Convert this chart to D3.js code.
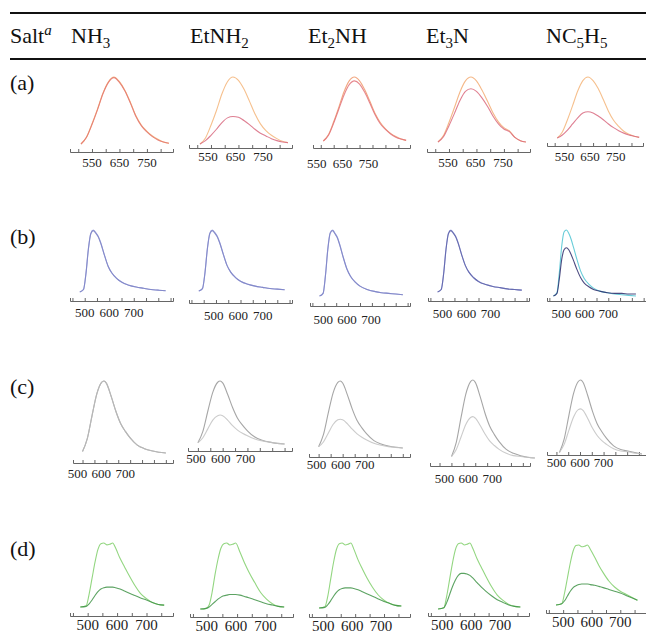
<!DOCTYPE html>
<html><head><meta charset="utf-8">
<script src="https://cdn.jsdelivr.net/npm/d3@7"></script>
<style>body{margin:0;background:#fff}svg{display:block}</style>
</head><body><svg id="c" width="646" height="635"></svg>
<script>
// ---------- DATA ----------
const columnLabels = [
  [["NH",""],["3","sub"]],
  [["EtNH",""],["2","sub"]],
  [["Et",""],["2","sub"],["NH",""]],
  [["Et",""],["3","sub"],["N",""]],
  [["NC",""],["5","sub"],["H",""],["5","sub"]]
];
const rowLabels = ["(a)", "(b)", "(c)", "(d)"];

const aTicks = [550, 650, 750];
const bTicks = [500, 600, 700];
const cTicks = [500, 600, 700];
const dTicks = [500, 600, 700];

// Row (a) spectra (wavelength nm, normalised intensity)
const aWave = [510, 530, 550, 570, 590, 610, 630, 650, 670, 690, 710, 730, 750, 770, 790, 810, 830];
const aOuter = [
  [0.00, 0.10, 0.30, 0.52, 0.76, 0.93, 1.00, 0.93, 0.80, 0.62, 0.42, 0.28, 0.19, 0.12, 0.07, 0.03, 0.01],
  [0.00, 0.09, 0.28, 0.50, 0.75, 0.93, 1.00, 0.95, 0.82, 0.64, 0.45, 0.30, 0.20, 0.13, 0.08, 0.04, 0.02],
  [0.00, 0.10, 0.30, 0.53, 0.77, 0.94, 1.00, 0.94, 0.80, 0.62, 0.43, 0.29, 0.19, 0.12, 0.07, 0.03, 0.01],
  [0.00, 0.10, 0.30, 0.53, 0.77, 0.94, 1.00, 0.94, 0.80, 0.63, 0.45, 0.31, 0.22, 0.17, 0.07, 0.02, 0.00],
  [0.00, 0.10, 0.30, 0.53, 0.77, 0.94, 1.00, 0.94, 0.81, 0.63, 0.44, 0.29, 0.19, 0.11, 0.06, 0.03, 0.01]
];
const aInner = [
  [0.00, 0.10, 0.29, 0.51, 0.75, 0.92, 0.99, 0.92, 0.79, 0.61, 0.41, 0.27, 0.18, 0.11, 0.06, 0.03, 0.01],
  [0.00, 0.05, 0.13, 0.22, 0.32, 0.39, 0.41, 0.40, 0.35, 0.29, 0.22, 0.16, 0.12, 0.08, 0.05, 0.03, 0.02],
  [0.00, 0.09, 0.28, 0.50, 0.72, 0.88, 0.94, 0.89, 0.76, 0.59, 0.41, 0.27, 0.18, 0.11, 0.06, 0.03, 0.01],
  [0.00, 0.08, 0.25, 0.44, 0.64, 0.78, 0.82, 0.78, 0.68, 0.55, 0.40, 0.28, 0.20, 0.16, 0.07, 0.02, 0.00],
  [0.00, 0.05, 0.13, 0.23, 0.33, 0.41, 0.43, 0.41, 0.36, 0.30, 0.23, 0.17, 0.12, 0.08, 0.05, 0.03, 0.01]
];

// Row (b)
const bWave = [480, 495, 505, 515, 525, 535, 545, 555, 565, 580, 595, 610, 630, 650, 680, 710, 740, 770, 800, 830];
const bOuter = [
  [0.00, 0.04, 0.30, 0.70, 0.95, 1.00, 0.96, 0.90, 0.80, 0.60, 0.42, 0.31, 0.22, 0.16, 0.11, 0.08, 0.06, 0.04, 0.03, 0.02],
  [0.00, 0.04, 0.30, 0.70, 0.95, 1.00, 0.96, 0.90, 0.80, 0.60, 0.42, 0.31, 0.22, 0.16, 0.11, 0.08, 0.06, 0.04, 0.03, 0.02],
  [0.00, 0.04, 0.32, 0.72, 0.96, 1.00, 0.95, 0.89, 0.78, 0.58, 0.41, 0.30, 0.21, 0.15, 0.10, 0.07, 0.05, 0.04, 0.03, 0.02],
  [0.00, 0.04, 0.30, 0.70, 0.95, 1.00, 0.96, 0.90, 0.80, 0.60, 0.43, 0.32, 0.23, 0.17, 0.12, 0.09, 0.07, 0.05, 0.04, 0.03],
  [0.00, 0.05, 0.35, 0.75, 0.97, 1.00, 0.95, 0.86, 0.74, 0.55, 0.38, 0.27, 0.18, 0.12, 0.07, 0.05, 0.03, 0.02, 0.01, 0.00]
];
const bInner = [
  [0.00, 0.04, 0.29, 0.69, 0.94, 0.99, 0.95, 0.89, 0.79, 0.60, 0.42, 0.31, 0.22, 0.16, 0.11, 0.08, 0.06, 0.04, 0.03, 0.02],
  [0.00, 0.04, 0.29, 0.69, 0.94, 0.99, 0.95, 0.89, 0.79, 0.60, 0.42, 0.31, 0.22, 0.16, 0.11, 0.08, 0.06, 0.04, 0.03, 0.02],
  [0.00, 0.04, 0.31, 0.71, 0.95, 0.99, 0.94, 0.88, 0.77, 0.58, 0.41, 0.30, 0.21, 0.15, 0.10, 0.07, 0.05, 0.04, 0.03, 0.02],
  [0.00, 0.04, 0.29, 0.69, 0.94, 0.99, 0.95, 0.89, 0.79, 0.60, 0.43, 0.32, 0.23, 0.17, 0.12, 0.09, 0.07, 0.05, 0.04, 0.03],
  [0.00, 0.04, 0.26, 0.55, 0.70, 0.73, 0.70, 0.63, 0.54, 0.40, 0.28, 0.20, 0.14, 0.10, 0.07, 0.05, 0.04, 0.04, 0.03, 0.03]
];

// Row (c)
const cWave = [500, 520, 540, 560, 580, 590, 600, 620, 640, 660, 680, 700, 730, 760, 790, 820, 850];
const cOuter = [
  [0.02, 0.20, 0.52, 0.82, 0.98, 1.00, 0.97, 0.79, 0.58, 0.41, 0.30, 0.21, 0.11, 0.06, 0.03, 0.01, 0.00],
  [0.02, 0.20, 0.52, 0.82, 0.98, 1.00, 0.97, 0.79, 0.58, 0.41, 0.30, 0.21, 0.11, 0.06, 0.03, 0.01, 0.00],
  [0.02, 0.20, 0.52, 0.82, 0.98, 1.00, 0.97, 0.79, 0.58, 0.41, 0.30, 0.21, 0.11, 0.06, 0.03, 0.01, 0.00],
  [0.02, 0.20, 0.52, 0.82, 0.98, 1.00, 0.97, 0.79, 0.58, 0.41, 0.30, 0.21, 0.11, 0.06, 0.03, 0.01, 0.00],
  [0.02, 0.20, 0.52, 0.82, 0.98, 1.00, 0.97, 0.79, 0.58, 0.41, 0.30, 0.21, 0.11, 0.06, 0.04, 0.02, 0.00]
];
const cInner = [
  [0.02, 0.20, 0.52, 0.82, 0.98, 1.00, 0.97, 0.79, 0.58, 0.41, 0.30, 0.21, 0.11, 0.06, 0.03, 0.01, 0.00],
  [0.02, 0.10, 0.24, 0.38, 0.45, 0.46, 0.45, 0.38, 0.29, 0.22, 0.17, 0.13, 0.08, 0.05, 0.03, 0.01, 0.00],
  [0.02, 0.09, 0.22, 0.35, 0.42, 0.43, 0.42, 0.36, 0.28, 0.21, 0.16, 0.12, 0.07, 0.04, 0.02, 0.01, 0.00],
  [0.02, 0.11, 0.27, 0.43, 0.52, 0.53, 0.51, 0.42, 0.31, 0.22, 0.16, 0.11, 0.06, 0.03, 0.02, 0.01, 0.00],
  [0.02, 0.13, 0.32, 0.50, 0.60, 0.61, 0.59, 0.48, 0.35, 0.25, 0.18, 0.13, 0.07, 0.04, 0.03, 0.01, 0.00]
];

// Row (d)
const dWave = [475, 495, 505, 515, 525, 535, 545, 555, 565, 575, 585, 595, 610, 625, 640, 660, 680, 700, 720, 740, 760];
const dOuter = [
  [0.00, 0.02, 0.20, 0.45, 0.70, 0.90, 0.99, 1.00, 0.97, 0.98, 1.00, 0.92, 0.76, 0.63, 0.50, 0.34, 0.21, 0.13, 0.07, 0.04, 0.03],
  [0.00, 0.01, 0.06, 0.25, 0.52, 0.75, 0.92, 0.99, 1.00, 0.97, 0.98, 1.00, 0.86, 0.70, 0.56, 0.40, 0.25, 0.15, 0.08, 0.04, 0.03],
  [0.00, 0.02, 0.18, 0.44, 0.70, 0.90, 0.99, 1.00, 0.97, 0.98, 1.00, 0.91, 0.74, 0.60, 0.47, 0.32, 0.20, 0.12, 0.07, 0.04, 0.03],
  [0.00, 0.02, 0.20, 0.45, 0.70, 0.90, 0.99, 1.00, 0.97, 0.98, 1.00, 0.92, 0.76, 0.63, 0.50, 0.34, 0.21, 0.13, 0.07, 0.04, 0.03],
  [0.00, 0.02, 0.20, 0.45, 0.70, 0.90, 0.99, 1.00, 0.97, 0.98, 1.00, 0.93, 0.80, 0.66, 0.54, 0.40, 0.30, 0.23, 0.18, 0.13, 0.08]
];
const dInner = [
  [0.00, 0.01, 0.05, 0.11, 0.18, 0.24, 0.28, 0.30, 0.31, 0.31, 0.31, 0.30, 0.28, 0.25, 0.22, 0.18, 0.14, 0.11, 0.07, 0.04, 0.03],
  [0.00, 0.01, 0.03, 0.07, 0.11, 0.15, 0.18, 0.20, 0.21, 0.22, 0.22, 0.22, 0.21, 0.19, 0.17, 0.14, 0.11, 0.08, 0.06, 0.04, 0.03],
  [0.00, 0.01, 0.05, 0.11, 0.18, 0.24, 0.28, 0.30, 0.31, 0.31, 0.31, 0.30, 0.28, 0.25, 0.22, 0.18, 0.14, 0.10, 0.07, 0.04, 0.03],
  [0.00, 0.02, 0.10, 0.22, 0.34, 0.44, 0.51, 0.54, 0.54, 0.53, 0.51, 0.47, 0.40, 0.33, 0.27, 0.20, 0.14, 0.10, 0.06, 0.04, 0.03],
  [0.00, 0.02, 0.07, 0.15, 0.23, 0.29, 0.32, 0.34, 0.35, 0.35, 0.35, 0.34, 0.33, 0.31, 0.29, 0.26, 0.23, 0.20, 0.16, 0.12, 0.08]
];

// ---------- LAYOUT / STYLE (kept apart from data) ----------
const rowDomains = [[470, 845], [440, 860], [460, 880], [440, 790]];
const rowTicks = [aTicks, bTicks, cTicks, dTicks];
const rowWaves = [aWave, bWave, cWave, dWave];
const rowOuter = [aOuter, bOuter, cOuter, dOuter];
const rowInner = [aInner, bInner, cInner, dInner];
const rowTickFont = [13, 13, 13, 15];
const rowLabelY = [90, 244, 394, 556];
const colHeaderX = [71, 190, 308, 426, 546];
// x0, x1, axisY, baseY, topY, labelY, labelDx, curveDx
const layout = [
  [[70,173,152,144,77,167,0,0],[189,292,148,144,77,161,-3,0],[313,410,148,141,77,168,-17,0],[427,530,152,142,77,167,-1,0],[547,643,146,138,77,161,-3,0]],
  [[70,173,301,292,230,317,0,0],[189,292,303,291,230,320,10,0],[310,410,306,296,230,324,-1,0],[428,529,301,292,230,318,0,0],[547,646,301,296,230,318,0,-3]],
  [[73,173,463,453,381,478,-5,0],[188,292,451,444,381,463,-2,0],[309,410,457,448,381,469,-2,0],[430,530,466,458,380,483,5,12],[547,646,455,454,380,467,0,3]],
  [[70,173,616,607,543,630,0,0],[190,293,617,609,543,631,-1,0],[309,410,617,608,543,631,-3,0],[428,529,616,609,543,630,-3,0],[546,646,613,605,545,627,0,0]]
];
const colors = [
  [["#f4b684","#e4776e"],["#f6c08e","#d8687f"],["#f2a882","#e2727a"],["#f5b888","#da6a7c"],["#f6c08e","#d8687f"]],
  [["#a9aee0","#7d82c6"],["#a9aee0","#7d82c6"],["#a9aee0","#7d82c6"],["#a9aee0","#5a5fa8"],["#68cdd9","#2d2b6b"]],
  [["#ababab","#b8b8b8"],["#a6a6a6","#c2c2c2"],["#a6a6a6","#c2c2c2"],["#a6a6a6","#c2c2c2"],["#a6a6a6","#c2c2c2"]],
  [["#93d681","#3f9346"],["#93d681","#3f9346"],["#93d681","#3f9346"],["#93d681","#3f9346"],["#93d681","#3f9346"]]
];

const serif = "'Liberation Serif','Times New Roman',serif";
const svg = d3.select("#c");

// header rules
svg.append("line").attr("x1",10).attr("x2",646).attr("y1",13).attr("y2",13).attr("stroke","#111").attr("stroke-width",2);
svg.append("line").attr("x1",10).attr("x2",646).attr("y1",59).attr("y2",59).attr("stroke","#111").attr("stroke-width",2);

// header text
const salt = svg.append("text").attr("x",10).attr("y",43).attr("font-family",serif).attr("font-size",22).attr("fill","#111");
salt.append("tspan").text("Salt");
salt.append("tspan").attr("font-style","italic").attr("font-size",15).attr("dy",-8).text("a");

columnLabels.forEach((parts, i) => {
  const t = svg.append("text").attr("x", colHeaderX[i]).attr("y", 43).attr("font-family", serif).attr("font-size", 22).attr("fill", "#111");
  let shifted = false;
  parts.forEach(([s, kind]) => {
    const ts = t.append("tspan").text(s);
    if (kind === "sub") { ts.attr("font-size", 15).attr("dy", shifted ? 0 : 5); shifted = true; }
    else { ts.attr("dy", shifted ? -5 : 0); shifted = false; }
  });
});

// row labels
rowLabels.forEach((lab, r) => {
  svg.append("text").attr("x", 10).attr("y", rowLabelY[r]).attr("font-family", serif).attr("font-size", 22).attr("fill", "#111").text(lab);
});

// panels
rowWaves.forEach((wave, r) => {
  const [d0, d1] = rowDomains[r];
  const tv = d3.range(Math.ceil(d0 / 50) * 50, d1 + 1, 50);
  for (let c = 0; c < 5; c++) {
    const [x0, x1, axisY, baseY, topY, labelY, labelDx, curveDx] = layout[r][c];
    const xs = d3.scaleLinear().domain([d0, d1]).range([x0, x1]);
    const ys = d3.scaleLinear().domain([0, 1]).range([baseY, topY]);
    const g = svg.append("g");
    const ax = g.append("g").attr("transform", `translate(0,${axisY})`)
      .call(d3.axisBottom(xs).tickValues(tv).tickSize(-3).tickSizeOuter(-3).tickFormat(""));
    ax.select(".domain").attr("stroke", "#666").attr("stroke-width", 1);
    ax.selectAll(".tick line").attr("stroke", "#666");
    rowTicks[r].forEach(v => {
      g.append("text").attr("x", xs(v) + labelDx).attr("y", labelY).attr("text-anchor", "middle")
        .attr("font-family", serif).attr("font-size", rowTickFont[r]).attr("fill", "#222").text(v);
    });
    const line = d3.line().x((d, i) => xs(wave[i]) + curveDx).y(d => ys(d)).curve(d3.curveMonotoneX);
    g.append("path").datum(rowOuter[r][c]).attr("d", line).attr("fill", "none")
      .attr("stroke", colors[r][c][0]).attr("stroke-width", 1.1);
    g.append("path").datum(rowInner[r][c]).attr("d", line).attr("fill", "none")
      .attr("stroke", colors[r][c][1]).attr("stroke-width", 1.1).attr("stroke-opacity", 0.85);
  }
});
</script>
</body></html>
